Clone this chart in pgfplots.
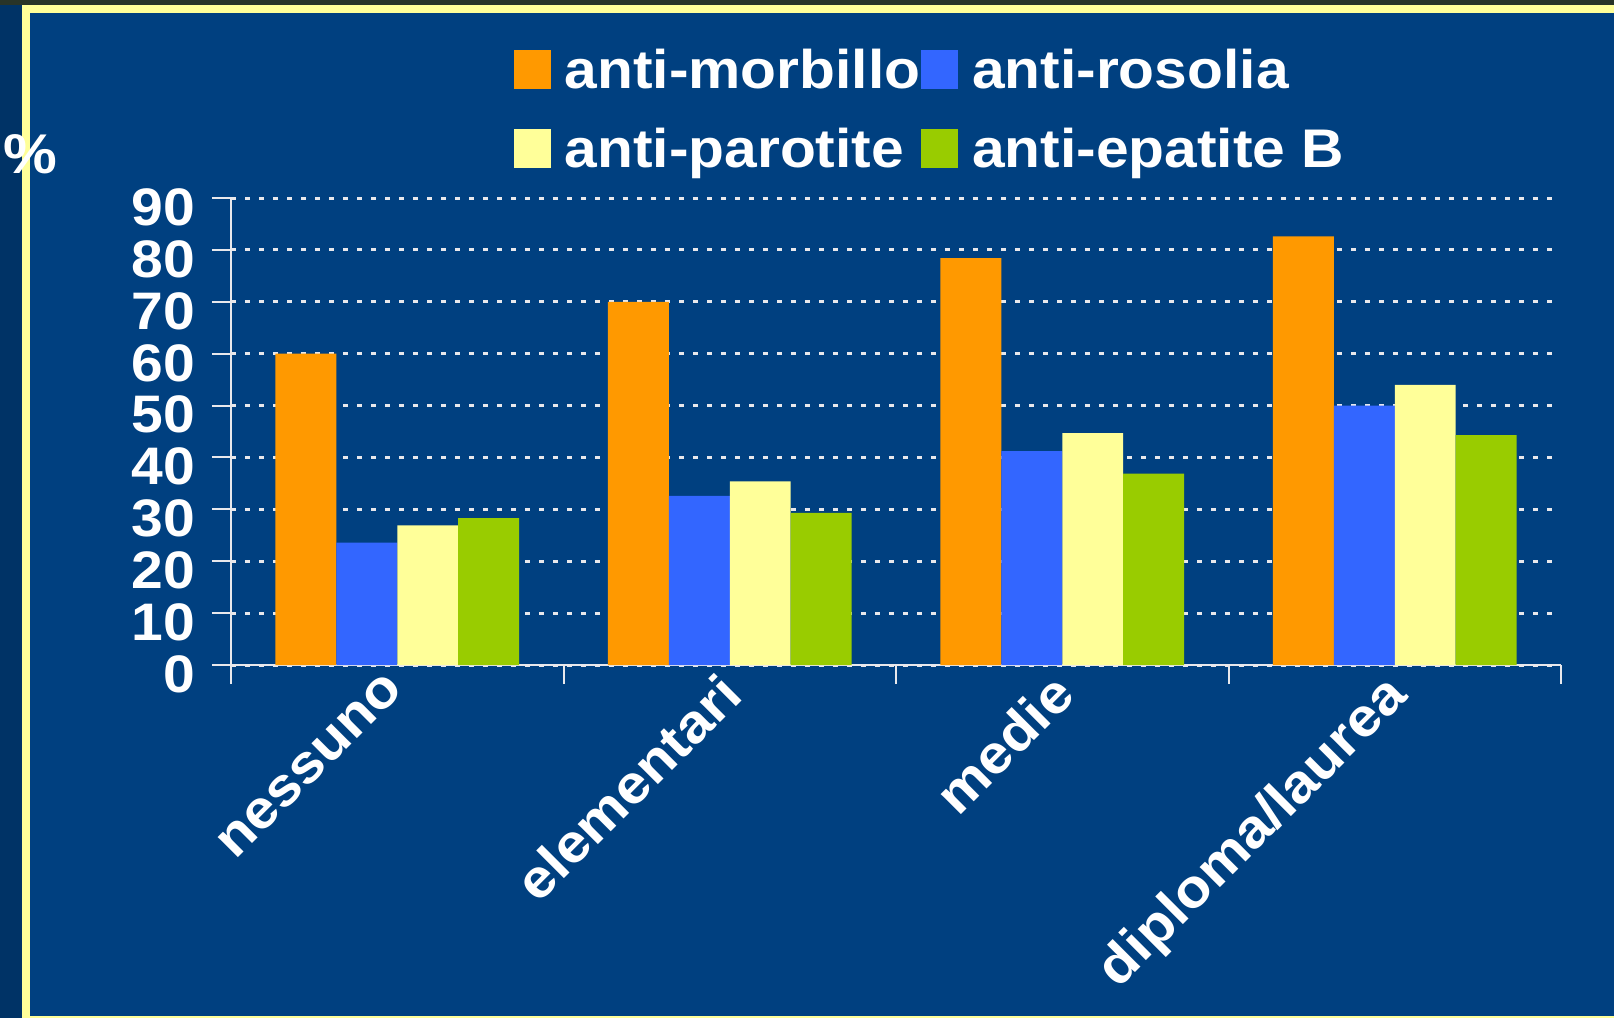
\documentclass[border=0pt]{standalone}
\usepackage{fontspec}
\setmainfont{Liberation Sans}[FakeStretch=1.08]
\usepackage{pgfplots}
\pgfplotsset{compat=1.18}
\definecolor{bg}{RGB}{0,64,128}
\definecolor{strip}{RGB}{0,51,102}
\definecolor{topstrip}{RGB}{40,52,40}
\definecolor{ylw}{RGB}{255,255,153}
\definecolor{cOr}{RGB}{255,153,0}
\definecolor{cBl}{RGB}{51,102,255}
\definecolor{cYe}{RGB}{255,255,153}
\definecolor{cGr}{RGB}{153,204,0}
\definecolor{axc}{RGB}{232,232,236}
\pgfplotsset{
  mybar/.style={ybar, draw=none, bar width=0.1832,
    legend image code/.code={\fill (0pt,-4.3pt) rectangle (9.25pt,5.45pt);}},
}
\begin{document}
\begin{tikzpicture}
\useasboundingbox (0,0) rectangle (403.5pt,254.5pt);
\fill[bg] (0,0) rectangle (403.5pt,254.5pt);
\fill[strip] (0,0) rectangle (5.5pt,254.5pt);
\fill[topstrip] (0,253.3pt) rectangle (403.5pt,254.5pt);
\fill[ylw] (5.5pt,0) rectangle (7.5pt,253.3pt);
\fill[ylw] (5.5pt,251.25pt) rectangle (403.5pt,253.3pt);
\fill[ylw] (5.5pt,0) rectangle (403.5pt,0.5pt);
\node[text=white, font=\bfseries\fontsize{14}{15}\selectfont, inner sep=0pt] at (7.7pt,215.9pt) {\%};
\begin{axis}[
  at={(57.75pt,88.25pt)}, anchor=south west, scale only axis,
  width=332.5pt, height=116.75pt,
  xmin=-0.5, xmax=3.5, ymin=0, ymax=90,
  axis x line=bottom, axis y line=left,
  axis line style={axc, line width=0.5pt, -},
  every tick/.style={axc, line width=0.5pt},
  tick align=outside, major tick length=4.75pt,
  ytick={0,10,...,90},
  xtick={-0.5,0.5,1.5,2.5,3.5}, xticklabels={,,,,},
  extra x ticks={0,1,2,3},
  extra x tick labels={nessuno,elementari,medie,diploma/laurea},
  extra x tick style={major tick length=0pt,
    xticklabel style={rotate=45, anchor=north east, inner sep=0pt, xshift=-3pt, yshift=1.5pt,
      text=white, font=\bfseries\fontsize{13.5}{14}\selectfont}},
  ymajorgrids=true,
  major grid style={axc, line width=0.75pt, dash pattern=on 1.15pt off 2.35pt},
  yticklabel style={text=white, inner sep=0pt, yshift=-2.3pt, xshift=-4pt,
    font=\bfseries\fontsize{13.2}{14}\selectfont},
  /pgf/number format/assume math mode=true,
  legend columns=2,
  legend cell align=left,
  legend style={at={(0.2125,1.3203)}, anchor=north west, draw=none, fill=none,
    inner sep=0pt, outer sep=0pt, text=white,
    font=\bfseries\fontsize{13.6}{14}\selectfont,
    row sep=8.3pt, nodes={inner sep=0pt},
    /tikz/every odd column/.style={column sep=3.5pt},
    /tikz/every even column/.style={column sep=2.1pt}},
]
\addplot[mybar, fill=cOr, bar shift=-0.2748] coordinates {(0,60) (1,70) (2,78.4) (3,82.6)};
\addlegendentry{\makebox[87pt][l]{\rule{0pt}{10pt}anti-morbillo}}
\addplot[mybar, fill=cBl, bar shift=-0.0916] coordinates {(0,23.6) (1,32.6) (2,41.2) (3,50)};
\addlegendentry{\makebox[87pt][l]{\rule{0pt}{10pt}anti-rosolia}}
\addplot[mybar, fill=cYe, bar shift=0.0916] coordinates {(0,26.9) (1,35.4) (2,44.7) (3,54.0)};
\addlegendentry{\makebox[87pt][l]{\rule{0pt}{10pt}anti-parotite}}
\addplot[mybar, fill=cGr, bar shift=0.2748] coordinates {(0,28.3) (1,29.3) (2,36.9) (3,44.3)};
\addlegendentry{\makebox[87pt][l]{\rule{0pt}{10pt}anti-epatite B}}
\end{axis}
\end{tikzpicture}
\end{document}
